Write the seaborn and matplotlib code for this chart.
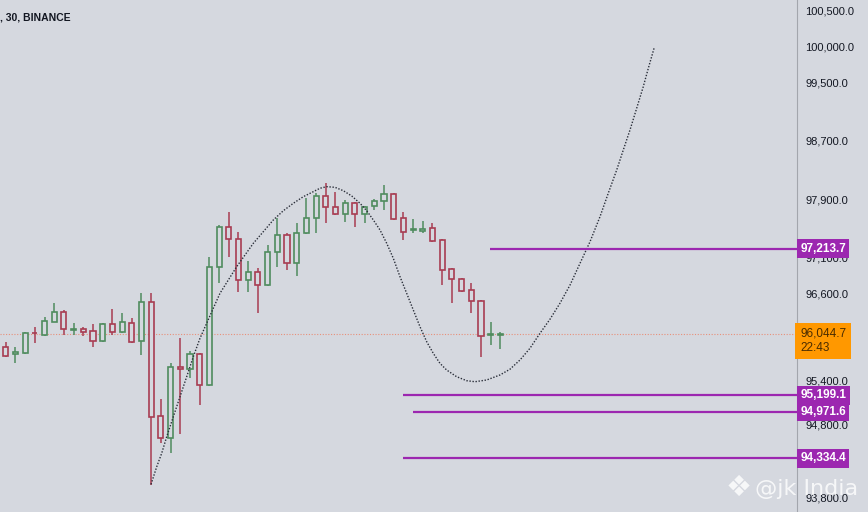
import numpy as np
import pandas as pd
import matplotlib
matplotlib.use('Agg')
import matplotlib.pyplot as plt
import seaborn as sns

# ==================== 数据 ====================
opens = [95869, 95764, 95778, 96061, 96030, 96213, 96350, 96103, 96116, 96085,
         95947, 96177, 96075, 96191, 95951, 96488, 94916, 94609, 95585, 95558,
         95768, 95342, 96969, 97519, 97346, 96786, 96900, 96717, 97176, 97405,
         97016, 97429, 97635, 97942, 97794, 97690, 97850, 97690, 97804, 97873,
         97969, 97635, 97471, 97464, 97497, 97336, 96940, 96805, 96649, 96502,
         96034, 96030]
highs = [95929, 95869, 96075, 96144, 96281, 96466, 96374, 96191, 96144, 96177,
         96199, 96383, 96336, 96259, 96612, 96603, 95145, 95649, 95984, 95814,
         95778, 97098, 97543, 97726, 97451, 97052, 96947, 97268, 97635, 97430,
         97574, 97910, 97979, 98116, 98001, 97887, 97863, 97804, 97896, 98093,
         97979, 97726, 97621, 97602, 97566, 97345, 96945, 96810, 96741, 96511,
         96213, 96075]
lows = [95731, 95649, 95770, 95924, 96016, 96205, 96030, 96030, 96016, 95869,
        95940, 96030, 96053, 95916, 95755, 93966, 94540, 94403, 94668, 95434,
        95067, 95328, 96741, 97107, 96625, 96625, 96336, 96710, 96969, 96924,
        96841, 97420, 97429, 97574, 97680, 97588, 97519, 97574, 97749, 97749,
        97615, 97336, 97436, 97437, 97313, 96717, 96466, 96617, 96328, 95723,
        95892, 95833]
closes = [95741, 95792, 96053, 96053, 96226, 96346, 96108, 96112, 96075, 95947,
          96177, 96075, 96213, 95938, 96488, 94906, 94609, 95585, 95558, 95768,
          95342, 96969, 97519, 97346, 96786, 96900, 96717, 97176, 97405, 97024,
          97429, 97643, 97942, 97794, 97690, 97850, 97690, 97786, 97873, 97969,
          97621, 97451, 97481, 97484, 97323, 96924, 96796, 96639, 96502, 96016,
          96043, 96044.7]

# 手绘曲线（K线序号, 价格）
curve_x = [14.98, 15.57, 16.08, 16.60, 17.28, 17.97, 18.66, 19.34, 20.03, 20.72,
           21.40, 22.09, 22.95, 23.81, 24.67, 25.53, 26.56, 27.59, 28.62, 29.65,
           30.68, 31.71, 32.40, 33.09, 33.95, 34.80, 35.67, 36.53, 37.22, 37.90,
           38.59, 39.28, 39.96, 40.65, 41.34, 42.02, 42.71, 43.40, 44.08, 44.77,
           45.46, 46.49, 47.53, 48.38, 49.59, 50.96, 51.98, 53.02, 54.05, 55.08,
           56.11, 57.14, 58.18, 59.21, 60.24, 61.27, 62.12, 62.99, 63.67, 64.36,
           65.05, 65.73, 66.25, 66.84]
curve_y = [93975, 94218, 94402, 94631, 94906, 95181, 95456, 95731, 95984, 96191,
           96397, 96603, 96786, 96969, 97130, 97291, 97451, 97612, 97739, 97841,
           97932, 98001, 98048, 98070, 98061, 98015, 97942, 97841, 97739, 97612,
           97474, 97291, 97085, 96832, 96603, 96374, 96144, 95938, 95778, 95640,
           95548, 95456, 95401, 95387, 95411, 95480, 95558, 95686, 95847, 96053,
           96246, 96466, 96717, 97016, 97313, 97657, 97979, 98299, 98574, 98849,
           99148, 99445, 99698, 99973]

# 水平价位线
level_prices = [97213.7, 95199.1, 94971.6, 94334.4]
level_start = [49.9, 40.96, 42.0, 40.96]

last_price = 96044.7
countdown = '22:43'
y_ticks = [93800, 94800, 95400, 96600, 97100, 97900, 98700, 99500, 100000, 100500]

bg = '#d5d8df'
green = '#4f8c5e'
red = '#a83c52'
purple = '#9c27b0'

# ==================== 绘图 ====================
sns.set_theme(style='white', rc={'axes.facecolor': bg, 'figure.facecolor': bg})
plt.rcParams['font.family'] = ['Liberation Sans', 'DejaVu Sans']

fig = plt.figure(figsize=(8.68, 5.12), dpi=100)
ax = fig.add_axes([0, 0, 797 / 868, 1])

df = pd.DataFrame({'open': opens, 'high': highs, 'low': lows, 'close': closes})
df['x'] = np.arange(len(df))
df['up'] = df['close'] >= df['open']
df['color'] = np.where(df['up'], green, red)
df['bottom'] = df[['open', 'close']].min(axis=1)
df['height'] = (df['close'] - df['open']).abs().clip(lower=1)

ax.vlines(df['x'], df['low'], df['high'], colors=df['color'], linewidth=1.1, zorder=2)
ax.bar(df['x'], df['height'], bottom=df['bottom'], width=0.52, color=bg,
       edgecolor=df['color'], linewidth=1.2, zorder=3)

# 当前价虚线
ax.axhline(last_price, color='#e8907a', linewidth=0.8, linestyle=(0, (1, 1.5)), zorder=1)

# 曲线
curve = pd.DataFrame({'x': curve_x, 'y': curve_y})
sns.lineplot(data=curve, x='x', y='y', sort=False, ax=ax, color='#2a2e39',
             linewidth=1.0, linestyle=(0, (1, 1.2)), zorder=4)

xmin, xmax = -0.588, 81.58
for p, s in zip(level_prices, level_start):
    ax.hlines(p, s, xmax, color=purple, linewidth=1.6, zorder=4)

ax.set_xlim(xmin, xmax)
ax.set_ylim(93595, 100637.6)
ax.set_xlabel('')
ax.set_ylabel('')
ax.set_xticks([])
ax.yaxis.tick_right()
ax.set_yticks(y_ticks)
ax.set_yticklabels([f'{t:,.1f}' for t in y_ticks])
ax.tick_params(axis='y', length=0, pad=6, labelsize=8, labelcolor='#131722')
for side in ['top', 'left', 'bottom']:
    ax.spines[side].set_visible(False)
ax.spines['right'].set_color('#a3a6ad')
ax.spines['right'].set_linewidth(0.8)

# 右侧价格标签
tr = ax.get_yaxis_transform()
for p in level_prices:
    ax.text(1.004, p, f'{p:,.1f}', transform=tr, ha='left', va='center',
            fontsize=8.5, fontweight='bold', color='white', clip_on=False, zorder=10,
            bbox=dict(boxstyle='square,pad=0.3', fc=purple, ec='none'))
ax.annotate(f'{last_price:,.1f}\n{countdown}', xy=(1.004, last_price), xycoords=tr,
            xytext=(0, -7), textcoords='offset pixels', ha='left', va='center',
            fontsize=8.5, color='#4a2c00', linespacing=1.3, annotation_clip=False, zorder=10,
            bbox=dict(boxstyle='square,pad=0.4', fc='#ff9800', ec='none'))

# 标题与水印
fig.text(0.0, 1 - 17 / 512, ', 30, BINANCE', ha='left', va='center', fontsize=7.5,
         fontweight='bold', color='#131722')
fig.text(739 / 868, 1 - 488 / 512, '\u2756', ha='center', va='center', fontsize=21,
         color='white', alpha=0.8, family=['DejaVu Sans'])
fig.text(755 / 868, 1 - 489 / 512, '@jk India', ha='left', va='center', fontsize=16,
         color='white', alpha=0.8, family=['DejaVu Sans'])

fig.savefig('out.png', dpi=100, facecolor=bg)
